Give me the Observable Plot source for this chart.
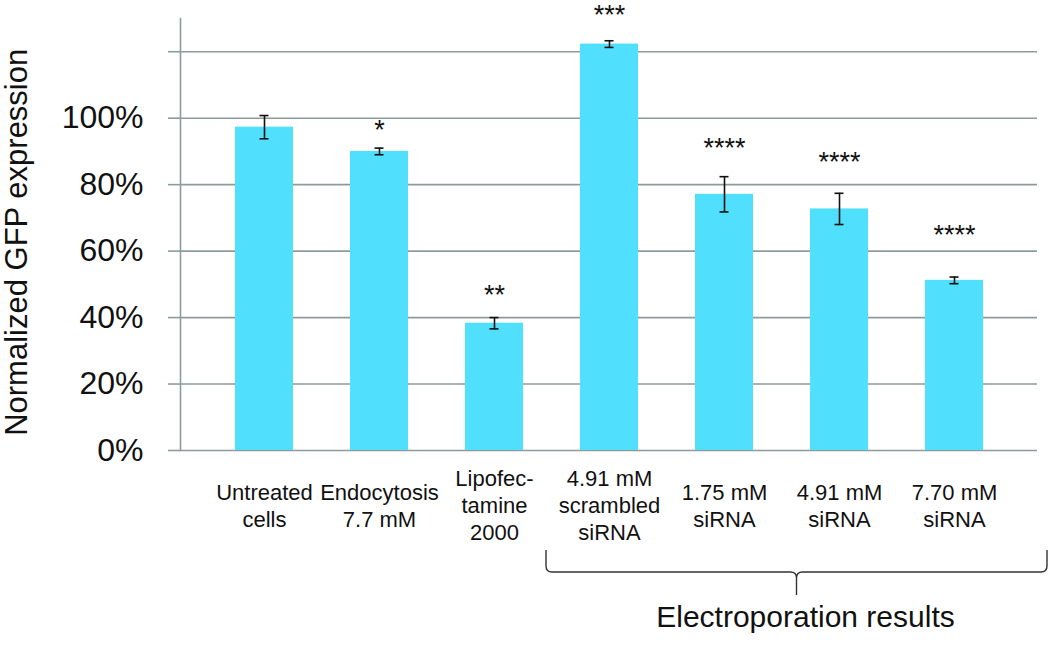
<!DOCTYPE html>
<html>
<head>
<meta charset="utf-8">
<script src="https://cdn.jsdelivr.net/npm/d3@7"></script>
<script src="https://cdn.jsdelivr.net/npm/@observablehq/plot@0.6"></script>
<style>
  html, body { margin: 0; padding: 0; background: #fff; }
  svg { display: block; }
</style>
</head>
<body>
<div id="chart"></div>
<script>
// ---- data ----
const categories = [
  "Untreated\ncells",
  "Endocytosis\n7.7 mM",
  "Lipofec-\ntamine\n2000",
  "4.91 mM\nscrambled\nsiRNA",
  "1.75 mM\nsiRNA",
  "4.91 mM\nsiRNA",
  "7.70 mM\nsiRNA"
];
const values = [97.3, 90.0, 38.3, 122.3, 77.1, 72.7, 51.2];
const errors = [3.5, 1.0, 1.7, 1.0, 5.3, 4.7, 1.0];
const stars = ["", "*", "**", "***", "****", "****", "****"];
const starLevels = [null, 97.3, 47.6, 131.9, 91.7, 87.7, 65.7];
const yTicks = [0, 20, 40, 60, 80, 100, 120];
const yTickLabels = ["0%", "20%", "40%", "60%", "80%", "100%", ""];
const yLabel = "Normalized GFP expression";
const groupLabel = "Electroporation results";

const rows = categories.map((c, i) => ({cat: c, v: values[i], e: errors[i], star: stars[i], sy: starLevels[i]}));

const barColor = "#50dffc";
const gridColor = "#8f9b9b";
const font = "'Liberation Sans', Arial, sans-serif";

// y-axis title, bracket and group label, positioned through the plot's scales
function annotationMark(index, scales, values, dims) {
  const x = scales.x, y = scales.y;
  const bw = x.bandwidth();
  const left = x(categories[3]) - 34;
  const right = x(categories[6]) + bw + 64;
  const mid = (left + right) / 2;
  const base = dims.height - dims.marginBottom;
  const yTop = base + 100, yH = base + 122, yTip = base + 145;
  const r = 6;
  const g = d3.create("svg:g");
  g.append("path")
    .attr("fill", "none")
    .attr("stroke", "#333")
    .attr("stroke-width", 1.4)
    .attr("d",
      `M${left},${yTop} L${left},${yH - r} Q${left},${yH} ${left + r},${yH} L${mid - r},${yH} Q${mid},${yH} ${mid},${yH + r} L${mid},${yTip}` +
      ` M${mid},${yH + r} Q${mid},${yH} ${mid + r},${yH} L${right - r},${yH} Q${right},${yH} ${right},${yH - r} L${right},${yTop}`);
  g.append("text")
    .attr("x", mid + 9)
    .attr("y", base + 177)
    .attr("text-anchor", "middle")
    .attr("font-family", font)
    .attr("font-size", 30)
    .attr("fill", "#111")
    .text(groupLabel);
  const ly = (y(0) + y(125)) / 2;
  const lx = dims.marginLeft - 164;
  g.append("text")
    .attr("transform", `translate(${lx},${ly}) rotate(-90)`)
    .attr("text-anchor", "middle")
    .attr("dy", "0.35em")
    .attr("font-family", font)
    .attr("font-size", 31)
    .attr("fill", "#111")
    .text(yLabel);
  return g.node();
}

const chart = Plot.plot({
  width: 1050,
  height: 646,
  marginLeft: 180,
  marginRight: 13,
  marginTop: 18,
  marginBottom: 196,
  style: {fontFamily: font, background: "#fff", overflow: "visible"},
  x: {domain: categories, paddingInner: 0.5, paddingOuter: 0.47, axis: null},
  y: {domain: [0, 130], axis: null},
  marks: [
    Plot.gridY(yTicks, {stroke: gridColor, strokeOpacity: 1, strokeWidth: 1.6}),
    Plot.axisY(yTicks, {
      tickSize: 12,
      tickPadding: 25,
      stroke: gridColor,
      strokeWidth: 1.6,
      strokeOpacity: 1,
      tickFormat: d => yTickLabels[yTicks.indexOf(d)],
      fontSize: 32,
      fill: "#111",
      label: null
    }),
    Plot.frame({anchor: "left", stroke: gridColor, strokeWidth: 1.6}),
    Plot.barY(rows, {x: "cat", y: "v", fill: barColor}),
    Plot.ruleX(rows, {x: "cat", y1: d => d.v - d.e, y2: d => d.v + d.e, stroke: "#111", strokeWidth: 1.6}),
    Plot.tickY(rows, {x: "cat", y: d => d.v - d.e, stroke: "#111", strokeWidth: 1.6, inset: 24.5}),
    Plot.tickY(rows, {x: "cat", y: d => d.v + d.e, stroke: "#111", strokeWidth: 1.6, inset: 24.5}),
    Plot.text(rows.filter(d => d.star), {x: "cat", y: "sy", text: "star", fontSize: 27, dy: 3, fill: "#111", clip: false}),
    Plot.text(rows, {x: "cat", y: () => 0, text: "cat", dy: 54, lineAnchor: "middle", lineHeight: 1.22, fontSize: 22, fill: "#111"}),
    annotationMark
  ]
});
document.getElementById("chart").appendChild(chart);
</script>
</body>
</html>
